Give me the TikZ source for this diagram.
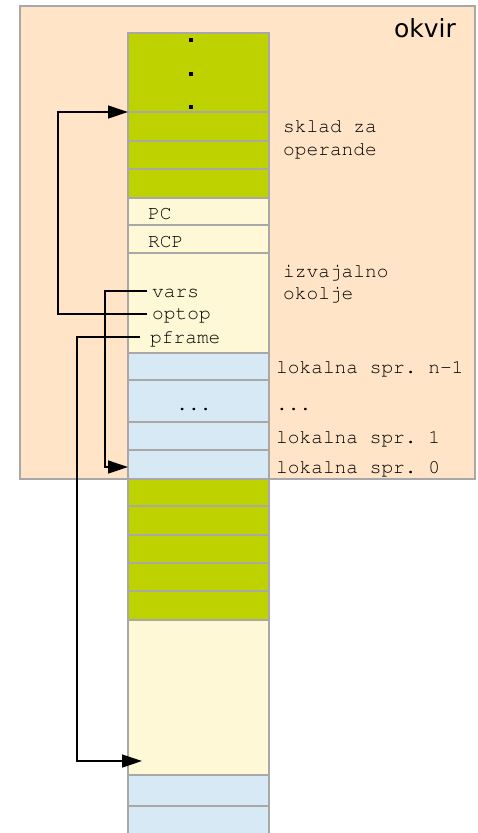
\documentclass[tikz,border=0pt]{standalone}
\usepackage[T1]{fontenc}
\usepackage{fontspec}
\newfontfamily\sansf{DejaVu Sans}
\newcommand\courfont{\fontencoding{T1}\fontfamily{pcr}\fontseries{m}\fontshape{n}\fontsize{19.5}{22}\selectfont\frenchspacing}
\usetikzlibrary{arrows.meta}
\definecolor{peach}{RGB}{255,228,200}
\definecolor{lime}{RGB}{190,210,0}
\definecolor{cream}{RGB}{255,248,214}
\definecolor{skyb}{RGB}{214,233,245}
\definecolor{edgegray}{RGB}{168,168,168}
\tikzset{
 cell/.style={draw=edgegray, line width=1.2pt, minimum width=141pt, inner sep=0pt, outer sep=0pt},
 gcell/.style={cell, fill=lime},
 ycell/.style={cell, fill=cream},
 bcell/.style={cell, fill=skyb},
 lbl/.style={font=\courfont, inner sep=0pt, anchor=base west},
 ptr/.style={draw=black, line width=1.3pt, -{Triangle[length=20pt,width=13pt]}},
 dotm/.style={fill=black, rectangle, inner sep=0pt, minimum size=3.5pt},
}
\begin{document}
\begin{tikzpicture}[x=1pt,y=-1pt]
\useasboundingbox (0,0) rectangle (477,833);
\clip (0,0) rectangle (477,833);
% frame
\node[draw=edgegray, fill=peach, line width=1.2pt, minimum width=455pt, minimum height=473pt, inner sep=0pt] (okvir) at (247.5,242.5) {};
\node[font=\sansf\fontsize{25}{28}\selectfont, inner sep=0pt, anchor=base east] (okvirlbl) at (456,37) {okvir};
% column
\node[gcell, minimum height=79pt] (g0) at (198.5,72.5) {};
\node[gcell, minimum height=29pt] (g1) at (198.5,126.5) {};
\node[gcell, minimum height=28pt] (g2) at (198.5,155) {};
\node[gcell, minimum height=29pt] (g3) at (198.5,183.5) {};
\node[ycell, minimum height=27pt] (pc) at (198.5,211.5) {};
\node[ycell, minimum height=28pt] (rcp) at (198.5,239) {};
\node[ycell, minimum height=100pt] (env) at (198.5,303) {};
\node[bcell, minimum height=27pt] (b1) at (198.5,366.5) {};
\node[bcell, minimum height=42pt] (b2) at (198.5,401) {};
\node[bcell, minimum height=28pt] (b3) at (198.5,436) {};
\node[bcell, minimum height=29pt] (b4) at (198.5,464.5) {};
\node[gcell, minimum height=27pt] (g4) at (198.5,492.5) {};
\node[gcell, minimum height=29pt] (g5) at (198.5,520.5) {};
\node[gcell, minimum height=28pt] (g6) at (198.5,549) {};
\node[gcell, minimum height=28pt] (g7) at (198.5,577) {};
\node[gcell, minimum height=29pt] (g8) at (198.5,605.5) {};
\node[ycell, minimum height=155pt] (y2) at (198.5,697.5) {};
\node[bcell, minimum height=31pt] (b5) at (198.5,790.5) {};
\node[bcell, minimum height=40pt] (b6) at (198.5,826) {};
% dots
\node[dotm] (d1) at (191,40) {};
\node[dotm] (d2) at (191,74) {};
\node[dotm] (d3) at (191,107) {};
% column texts
\node[lbl] (pctxt) at (148,219) {PC};
\node[lbl] (rcptxt) at (148,247) {RCP};
\node[lbl] (vars) at (152,297) {vars};
\node[lbl] (optop) at (152,319) {optop};
\node[lbl] (pframe) at (150,343) {pframe};
\node[lbl, anchor=base] (cdots) at (194,410) {...};
% right labels
\node[lbl] (sk1) at (283,132) {sklad za};
\node[lbl] (sk2) at (283,155) {operande};
\node[lbl] (iz1) at (283,277) {izvajalno};
\node[lbl] (iz2) at (283,299) {okolje};
\node[lbl] (l1) at (276,373) {lokalna spr. n-1};
\node[lbl] (l2) at (276,410) {...};
\node[lbl] (l3) at (276,443) {lokalna spr. 1};
\node[lbl] (l4) at (276,473) {lokalna spr. 0};
% pointer targets
\coordinate (toptgt) at (128,112);
\coordinate (varstgt) at (128,467);
\coordinate (pftgt) at (142,761);
\coordinate (optopS) at (147,314);
\coordinate (varsS) at (147,291);
\coordinate (pfS) at (140,337);
% pointers
\draw[ptr] (optopS) -- (58,314) |- (toptgt);
\draw[ptr] (varsS) -- (105,291) |- (varstgt);
\draw[ptr] (pfS) -- (77,337) |- (pftgt);
\end{tikzpicture}
\end{document}
